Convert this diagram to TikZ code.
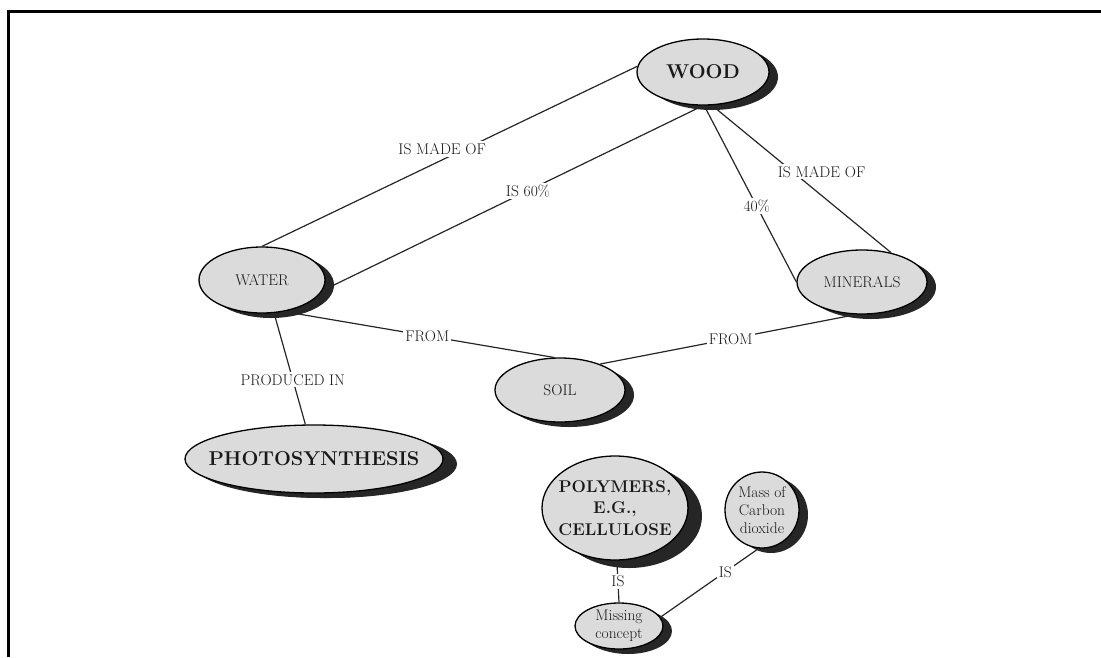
\documentclass[tikz,border=0pt]{standalone}
\usepackage{tikz}
\usetikzlibrary{shapes.geometric,shadows}

\begin{document}
\begin{tikzpicture}[x=1pt,y=-1pt]
\tikzset{concept/.style=
            {ellipse,draw,line width=1.3pt,fill=black!14,text=black!90,inner sep=0pt,align=center,
             font=\fontsize{15.5}{17}\selectfont,
             drop shadow={shadow xshift=9pt,shadow yshift=-5pt,fill=black!85,opacity=1}},
         big concept/.style=
            {concept,font=\fontsize{20}{22}\selectfont\bfseries},
         link/.style=
            {draw,line width=1.2pt,black!85},
         link label/.style=
            {fill=white,text=black!90,inner sep=2pt,font=\fontsize{15.5}{17}\selectfont}}
\useasboundingbox (0,0) rectangle (1101,657);
\draw[line width=3pt] (8,657) -- (8,11) -- (1101,11);

\node[big concept,minimum width=132pt,minimum height=66pt] (wood) at (703,72) {WOOD};
\node[concept,minimum width=126pt,minimum height=66pt] (water) at (262,280) {WATER};
\node[concept,minimum width=130pt,minimum height=64pt] (minerals) at (862,282) {MINERALS};
\node[concept,minimum width=130pt,minimum height=64pt] (soil) at (560,390) {SOIL};
\node[big concept,minimum width=258pt,minimum height=68pt,inner xsep=-26pt,
      drop shadow={shadow xshift=14pt,shadow yshift=-5pt,fill=black!85,opacity=1}]
      (photo) at (314,459) {PHOTOSYNTHESIS};
\node[concept,minimum width=146pt,minimum height=104pt,inner xsep=-9pt,
      font=\fontsize{17}{21.5}\selectfont\bfseries,
      drop shadow={shadow xshift=14pt,shadow yshift=-8pt,fill=black!85,opacity=1}]
      (polymers) at (615,508) {POLYMERS,\\E.G.,\\CELLULOSE};
\node[concept,minimum width=74pt,minimum height=76pt,font=\fontsize{15.5}{18}\selectfont]
      (carbon) at (762,510) {Mass of\\Carbon\\dioxide};
\node[concept,minimum width=88pt,minimum height=46pt,font=\fontsize{15.5}{18}\selectfont,
      drop shadow={shadow xshift=6pt,shadow yshift=-4pt,fill=black!85,opacity=1}]
      (missing) at (619,626) {Missing\\concept};

\draw[link] (wood.175) -- node[link label,pos=.52,yshift=11pt] {IS MADE OF} (water.north);
\draw[link] (wood.south) -- node[link label,pos=.46] {IS 60\%} (water.-10);
\draw[link] (wood.-88) -- node[link label,pos=.57] {40\%} (minerals.west);
\draw[link] (wood.-75) -- node[link label,pos=.45,xshift=29pt] {IS MADE OF} (minerals.45);
\draw[link] (water.-55) -- node[link label,pos=.53] {FROM} (soil.100);
\draw[link] (minerals.-100) -- node[link label,pos=.49] {FROM} (soil.33);
\draw[link] (water.-70) -- node[link label,pos=.6] {PRODUCED IN} (photo.104);
\draw[link] (polymers.-88) -- node[link label,pos=.5] {IS} (missing.north);
\draw[link] (carbon.-95) -- node[link label,pos=.34] {IS} (missing.12);
\end{tikzpicture}
\end{document}
